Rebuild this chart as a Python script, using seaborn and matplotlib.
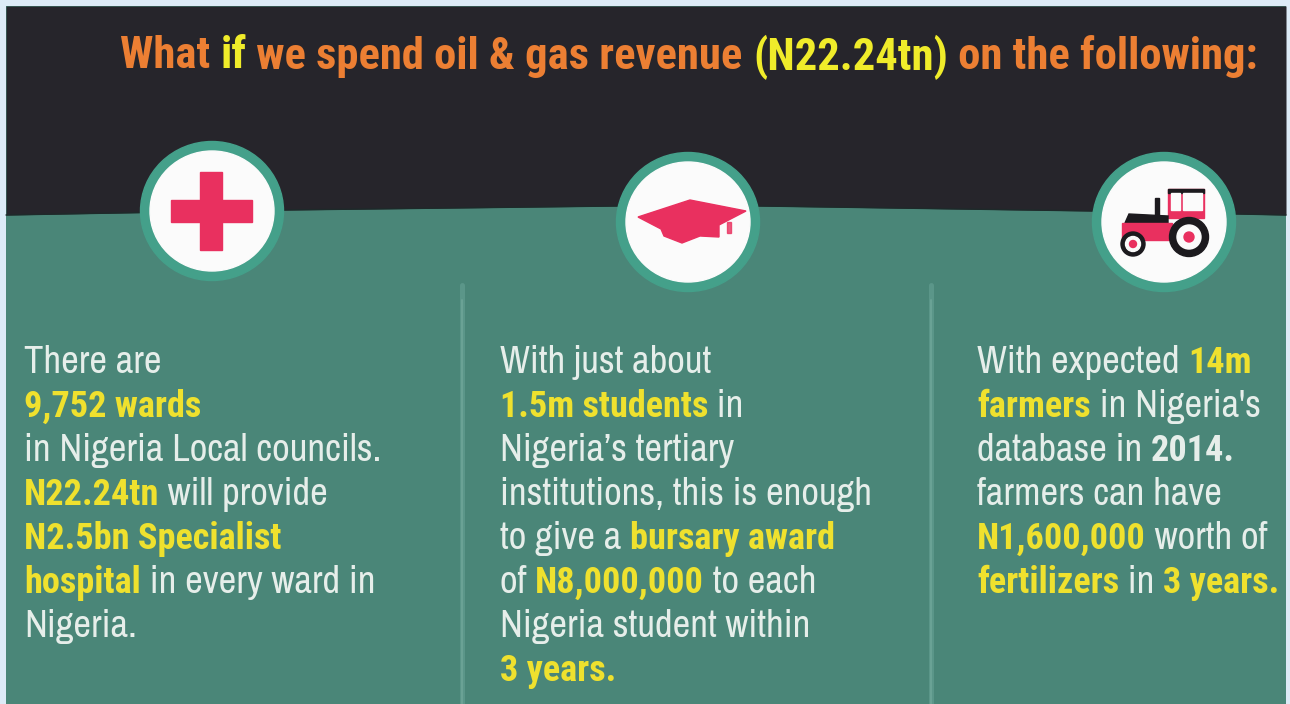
import matplotlib
matplotlib.use('Agg')
import matplotlib.pyplot as plt
import seaborn as sns
from matplotlib.patches import Circle, Ellipse, Polygon, Rectangle

sns.set_theme(style='white')
plt.rcParams['font.family'] = ['Archivo Narrow', 'Liberation Sans', 'DejaVu Sans']
BOLD_FONT = ['Roboto Condensed', 'Liberation Sans', 'DejaVu Sans']

PAGE = '#DDEBF7'
DARK = '#26252B'
TEAL = '#4A8678'
RING = '#44A08A'
PINK = '#E9305F'
BLACK = '#1C1A1E'
WHITE = '#FBFBFB'
ORANGE = '#EC7F33'
YELLOW = '#F0EC2A'
BODY = '#E6EEEA'
HILITE = '#EFE12E'

# each run is (text, highlighted)
title_runs = [('What ', False), ('if', True), (' we spend oil & gas revenue ', False),
              ('(N22.24tn)', True), (' on the following:', False)]

column_1 = [
    [('There are', False)],
    [('9,752 wards', True)],
    [('in Nigeria Local councils.', False)],
    [('N22.24tn', True), (' will provide', False)],
    [('N2.5bn Specialist', True)],
    [('hospital', True), (' in every ward in', False)],
    [('Nigeria.', False)],
]
column_2 = [
    [('With just about', False)],
    [('1.5m students', True), (' in', False)],
    [('Nigeria\u2019s tertiary', False)],
    [('institutions, this is enough', False)],
    [('to give a ', False), ('bursary award', True)],
    [('of ', False), ('N8,000,000', True), (' to each', False)],
    [('Nigeria student within', False)],
    [('3 years.', True)],
]
column_3 = [
    [('With expected ', False), ('14m', True)],
    [('farmers', True), (' in Nigeria\'s', False)],
    [('database in ', False), ('2014.', 'bold')],
    [('farmers can have', False)],
    [('N1,600,000', True), (' worth of', False)],
    [('fertilizers', True), (' in ', False), ('3 years.', True)],
]

# edge between the dark band and the teal panel
edge_x = [6, 284, 617, 760, 1094, 1286]
edge_y = [215, 210, 206, 206, 211, 215]

fig, ax = plt.subplots(figsize=(12.9, 7.04), dpi=100)
ax.set_position([0, 0, 1, 1])
ax.set_xlim(0, 1290)
ax.set_ylim(704, 0)
ax.axis('off')
fig.patch.set_facecolor(PAGE)

ax.add_patch(Rectangle((6, 6), 1280, 698, color=TEAL, lw=0, zorder=0))
ax.fill_between(edge_x, 6, edge_y, color=DARK, lw=0, zorder=1)
sns.lineplot(x=edge_x, y=edge_y, ax=ax, color='#1E2A2A', lw=1, zorder=2)

# column dividers, soft wide line with a lighter core
for xd in [462, 931]:
    sns.lineplot(x=[xd, xd], y=[285, 704], ax=ax, color='#5B9689', lw=3.6, zorder=2, estimator=None)
    sns.lineplot(x=[xd, xd], y=[300, 704], ax=ax, color='#6BA396', lw=1.4, zorder=2, estimator=None)


def badge(cx, cy):
    ax.add_patch(Ellipse((cx, cy), 143, 139, color=RING, zorder=3))
    ax.add_patch(Ellipse((cx, cy), 124, 120, color=WHITE, zorder=4))


badge(212, 211)
badge(688, 222)
badge(1164, 222)

# cross
ax.add_patch(Rectangle((200, 172), 22, 78, color=PINK, zorder=5))
ax.add_patch(Rectangle((171, 200), 81, 22, color=PINK, zorder=5))

# mortarboard
ax.add_patch(Polygon([(638, 217), (690, 200), (746, 211), (719, 225), (719, 237), (700, 236),
                      (682, 243), (664, 236), (661, 229)], color=PINK, zorder=5))
ax.add_patch(Rectangle((727, 222), 4, 11, color=PINK, alpha=0.8, zorder=5))

# tractor
ax.add_patch(Rectangle((1168, 189), 36, 29, color=PINK, zorder=5))
ax.add_patch(Rectangle((1168, 189), 36, 3.5, color=BLACK, zorder=6))
ax.add_patch(Rectangle((1171, 193), 9, 17, color=WHITE, zorder=6))
ax.add_patch(Rectangle((1183, 193), 19, 17, color=WHITE, zorder=6))
ax.add_patch(Rectangle((1155, 198), 4, 17, color=BLACK, zorder=5))
ax.add_patch(Polygon([(1125, 223), (1129, 214), (1168, 216), (1168, 223)], color=BLACK, zorder=5))
ax.add_patch(Polygon([(1122, 223), (1172, 223), (1172, 238), (1122, 238)], color=PINK, zorder=5))
ax.add_patch(Rectangle((1145, 236), 30, 4, color=PINK, zorder=5))
for wx, wy, r1, r2, r3 in [(1189, 237, 19.5, 12, 5), (1133, 244, 12, 7.5, 3.5)]:
    ax.add_patch(Circle((wx, wy), r1, color=BLACK, zorder=7))
    ax.add_patch(Circle((wx, wy), r2, color=WHITE, zorder=8))
    ax.add_patch(Circle((wx, wy), r3, color=PINK, zorder=9))

renderer = fig.canvas.get_renderer()


def advance(s, **kw):
    # trailing spaces are lost in a plain extent, so pad with dots
    t = ax.text(0, 0, '.' + s + '.', **kw)
    w = t.get_window_extent(renderer).width
    t.set_text('..')
    w -= t.get_window_extent(renderer).width
    t.remove()
    return w


def run_style(hi, size, all_bold=False):
    if hi or all_bold:
        return dict(fontsize=size, fontweight='bold', family=BOLD_FONT)
    return dict(fontsize=size)


def line_width(runs, size, all_bold=False):
    return sum(advance(s, **run_style(hi, size, all_bold)) for s, hi in runs)


def draw_runs(x, y, runs, size, bold_size, plain, strong, all_bold=False):
    for s, hi in runs:
        color = strong if hi is True else (BODY if hi == 'bold' else plain)
        kw = run_style(hi, bold_size if (hi or all_bold) else size, all_bold)
        ax.text(x, y, s, color=color, va='center_baseline', ha='left', zorder=10, **kw)
        x += advance(s, **kw)
    return x


# sizes come from the widths measured on the reference
title_size = 30 * 1138 / line_width(title_runs, 30, True)
draw_runs(120, 52, title_runs, title_size, title_size, ORANGE, YELLOW, all_bold=True)

body_size = 24 * 358 / line_width(column_1[2], 24)
bold_size = 24 * 178 / line_width(column_1[1], 24)
for x0, col in [(24, column_1), (500, column_2), (977, column_3)]:
    for i, runs in enumerate(col):
        draw_runs(x0, 359 + 44 * i, runs, body_size, bold_size, BODY, HILITE)

fig.savefig('out.png', dpi=100, facecolor=PAGE)
